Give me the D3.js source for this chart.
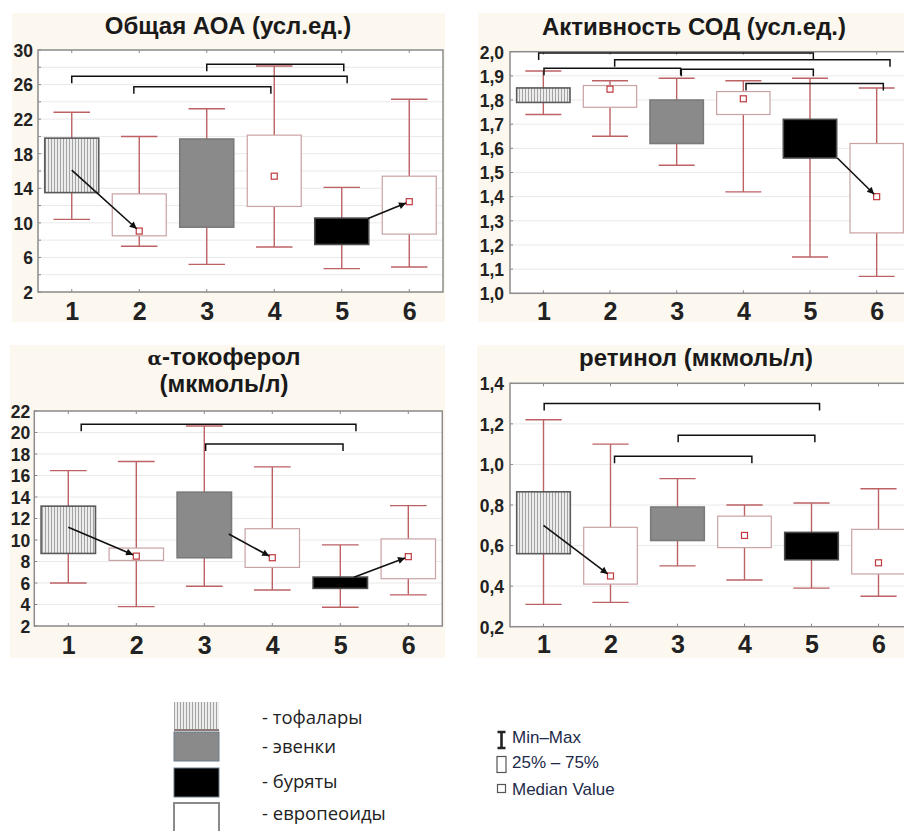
<!DOCTYPE html>
<html><head><meta charset="utf-8">
<script src="https://cdn.jsdelivr.net/npm/d3@7"></script>
<style>
html,body{margin:0;padding:0;background:#fff;}
svg{display:block;}
</style></head>
<body>
<script>
// ---------- DATA ----------
const categories = [1, 2, 3, 4, 5, 6];
const groupOf = ["тофалары", "европеоиды", "эвенки", "европеоиды", "буряты", "европеоиды"];

// Общая АОА (усл.ед.)
const aoaMin    = [10.4, 7.3, 5.2, 7.2, 4.7, 4.9];
const aoaQ1     = [13.5, 8.5, 9.5, 11.9, 7.5, 8.7];
const aoaMedian = [16.1, 9.05, 14.5, 15.4, 9.0, 12.45];
const aoaQ3     = [19.8, 13.35, 19.7, 20.15, 10.55, 15.4];
const aoaMax    = [22.8, 20.0, 23.2, 28.15, 14.1, 24.3];
const aoaTicks  = [2, 6, 10, 14, 18, 22, 26, 30];
const aoaBrackets = [[3.0, 5.03, 28.35], [1.0, 5.08, 26.95], [1.92, 3.95, 25.75]];
const aoaArrows   = [[1, 16.1, 2, 9.05], [5.39, 10.5, 6, 12.45]];

// Активность СОД (усл.ед.)
const sodMin    = [1.74, 1.65, 1.53, 1.42, 1.15, 1.07];
const sodQ1     = [1.79, 1.77, 1.62, 1.74, 1.56, 1.25];
const sodMedian = [1.82, 1.845, 1.70, 1.805, 1.64, 1.40];
const sodQ3     = [1.85, 1.86, 1.80, 1.835, 1.72, 1.62];
const sodMax    = [1.92, 1.88, 1.89, 1.88, 1.89, 1.85];
const sodTicks  = [1.0, 1.1, 1.2, 1.3, 1.4, 1.5, 1.6, 1.7, 1.8, 1.9, 2.0];
const sodBrackets = [[0.93, 5.05, 1.995], [2.07, 6.2, 1.967], [1.01, 3.06, 1.932], [3.07, 5.05, 1.927], [4.04, 6.1, 1.868]];
const sodArrows   = [[5.41, 1.56, 6, 1.40]];

// α-токоферол (мкмоль/л)
const tocMin    = [6.0, 3.8, 5.7, 5.35, 3.75, 4.9];
const tocQ1     = [8.75, 8.1, 8.35, 7.45, 5.5, 6.4];
const tocMedian = [11.2, 8.5, 11.0, 8.35, 6.0, 8.45];
const tocQ3     = [13.15, 9.25, 14.45, 11.05, 6.55, 10.1];
const tocMax    = [16.45, 17.3, 20.6, 16.8, 9.55, 13.2];
const tocTicks  = [2, 4, 6, 8, 10, 12, 14, 16, 18, 20, 22];
const tocBrackets = [[1.19, 5.23, 20.76], [3.02, 5.04, 18.93]];
const tocArrows   = [[1, 11.18, 2, 8.5], [3.36, 10.56, 4, 8.35], [5.2, 6.53, 6, 8.45]];

// ретинол (мкмоль/л)
const retMin    = [0.31, 0.32, 0.50, 0.43, 0.39, 0.35];
const retQ1     = [0.56, 0.41, 0.625, 0.59, 0.53, 0.46];
const retMedian = [0.70, 0.45, 0.71, 0.65, 0.60, 0.515];
const retQ3     = [0.865, 0.69, 0.79, 0.745, 0.665, 0.68];
const retMax    = [1.22, 1.10, 0.93, 0.80, 0.81, 0.88];
const retTicks  = [0.2, 0.4, 0.6, 0.8, 1.0, 1.2, 1.4];
const retBrackets = [[1.01, 5.12, 1.30], [3.01, 5.05, 1.144], [2.06, 4.11, 1.04]];
const retArrows   = [[1, 0.70, 2, 0.45]];

const legendGroups = ["тофалары", "эвенки", "буряты", "европеоиды"];
const legendStats  = ["Min–Max", "25% – 75%", "Median Value"];

// ---------- STYLE ----------
const W = 904, H = 831;
const CREAM = "#fdf8ef";
const WHISK = "#bd6165";
const WBOX = "#c9a2a3";
const FONT = "'Liberation Sans', Arial, sans-serif";
const groupFill = {"тофалары": "url(#hatch)", "эвенки": "#8a8a8a", "буряты": "#000", "европеоиды": "#fff"};
const groupStroke = {"тофалары": "#5a5a5a", "эвенки": "#7a7a7a", "буряты": "#4a4a4a", "европеоиды": WBOX};

const svg = d3.select("body").append("svg").attr("width", W).attr("height", H)
  .style("font-family", FONT);
svg.append("rect").attr("width", W).attr("height", H).attr("fill", "#fff");

const defs = svg.append("defs");
const pat = defs.append("pattern").attr("id", "hatch").attr("patternUnits", "userSpaceOnUse")
  .attr("width", 3).attr("height", 10);
pat.append("rect").attr("width", 3).attr("height", 10).attr("fill", "#ececec");
pat.append("rect").attr("x", 0).attr("width", 1).attr("height", 10).attr("fill", "#a3a3a3");
defs.append("marker").attr("id", "arr").attr("viewBox", "0 0 10 10").attr("refX", 10).attr("refY", 5)
  .attr("markerWidth", 9).attr("markerHeight", 7).attr("markerUnits", "userSpaceOnUse")
  .attr("orient", "auto")
  .append("path").attr("d", "M0,0 L10,5 L0,10 Z").attr("fill", "#111");

const commaFmt = (dec) => (v) => d3.format("." + dec + "f")(v).replace(".", ",");

function panel(cfg) {
  const g = svg.append("g");
  g.append("rect").attr("x", cfg.bg[0]).attr("y", cfg.bg[1]).attr("width", cfg.bg[2]).attr("height", cfg.bg[3])
    .attr("fill", CREAM);
  const x = d3.scaleLinear().domain([0.5, 6.5]).range([cfg.x0, cfg.x1]);
  const y = d3.scaleLinear().domain(cfg.domain).range([cfg.y1, cfg.y0]);
  const band = (cfg.x1 - cfg.x0) / 6;

  g.append("rect").attr("x", cfg.x0).attr("y", cfg.y0).attr("width", cfg.x1 - cfg.x0).attr("height", cfg.y1 - cfg.y0)
    .attr("fill", "#fff");
  // grid
  g.append("g").selectAll("line").data(cfg.grid).join("line")
    .attr("x1", cfg.x0).attr("x2", cfg.x1).attr("y1", d => y(d)).attr("y2", d => y(d))
    .attr("stroke", "#e9e9e9").attr("stroke-width", 1);
  // inward ticks
  g.append("g").selectAll("line").data(cfg.grid).join("line")
    .attr("x1", cfg.x0).attr("x2", cfg.x0 + 3).attr("y1", d => y(d)).attr("y2", d => y(d))
    .attr("stroke", "#888");
  g.append("g").selectAll("line").data(categories).join("line")
    .attr("x1", d => x(d)).attr("x2", d => x(d)).attr("y1", cfg.y1).attr("y2", cfg.y1 - 3).attr("stroke", "#888");
  g.append("g").selectAll("line").data(categories).join("line")
    .attr("x1", d => x(d)).attr("x2", d => x(d)).attr("y1", cfg.y0).attr("y2", cfg.y0 + 3).attr("stroke", "#888");
  // frame
  g.append("rect").attr("x", cfg.x0).attr("y", cfg.y0).attr("width", cfg.x1 - cfg.x0).attr("height", cfg.y1 - cfg.y0)
    .attr("fill", "none").attr("stroke", "#8c8c8c").attr("stroke-width", 1.5);

  // axes
  const ya = g.append("g").attr("transform", `translate(${cfg.x0},0)`)
    .call(d3.axisLeft(y).tickValues(cfg.ticks).tickFormat(cfg.fmt).tickSize(0).tickPadding(cfg.ypad));
  ya.select(".domain").remove();
  ya.selectAll("text").attr("font-size", 17.5).attr("font-weight", "bold").attr("fill", "#222")
    .attr("font-family", FONT).attr("dy", "0.36em");
  const xa = g.append("g").attr("transform", `translate(0,${cfg.y1})`)
    .call(d3.axisBottom(x).tickValues(categories).tickFormat(d3.format("d")).tickSize(0).tickPadding(cfg.xpad));
  xa.select(".domain").remove();
  xa.selectAll("text").attr("font-size", 25).attr("font-weight", "bold").attr("fill", "#222")
    .attr("font-family", FONT).attr("dy", "0.71em");

  const idx = d3.range(categories.length);
  // whiskers
  const wg = g.append("g").attr("stroke", WHISK).attr("stroke-width", 1.4);
  wg.selectAll(".stem").data(idx).join("line")
    .attr("x1", i => x(categories[i])).attr("x2", i => x(categories[i]))
    .attr("y1", i => y(cfg.min[i])).attr("y2", i => y(cfg.max[i]));
  const cap = band * 0.27;
  ["min", "max"].forEach(k => {
    wg.selectAll(".c" + k).data(idx).join("line")
      .attr("x1", i => x(categories[i]) - cap).attr("x2", i => x(categories[i]) + cap)
      .attr("y1", i => y(cfg[k][i])).attr("y2", i => y(cfg[k][i]));
  });
  // boxes
  const bw = band * 0.8;
  g.append("g").selectAll("rect").data(idx).join("rect")
    .attr("x", i => x(categories[i]) - bw / 2).attr("width", bw)
    .attr("y", i => y(cfg.q3[i])).attr("height", i => y(cfg.q1[i]) - y(cfg.q3[i]))
    .attr("fill", i => groupFill[groupOf[i]]).attr("stroke", i => groupStroke[groupOf[i]])
    .attr("stroke-width", i => groupOf[i] === "европеоиды" ? 1.2 : 1.6);
  // medians (visible on white boxes)
  g.append("g").selectAll("rect").data(idx.filter(i => groupOf[i] === "европеоиды")).join("rect")
    .attr("x", i => x(categories[i]) - 3).attr("y", i => y(cfg.median[i]) - 3)
    .attr("width", 6).attr("height", 6).attr("fill", "#fff").attr("stroke", "#c0393d").attr("stroke-width", 1.2);
  // brackets
  const bg = g.append("g").attr("fill", "none").attr("stroke", "#111").attr("stroke-width", 1.5);
  cfg.brackets.forEach(b => {
    const xa_ = x(b[0]), xb = x(b[1]), yy = y(b[2]);
    bg.append("path").attr("d", `M${xa_},${yy + 7}V${yy}H${xb}V${yy + 7}`);
  });
  // arrows
  const ag = g.append("g");
  cfg.arrows.forEach(a => {
    const x1 = x(a[0]), y1 = y(a[1]), x2 = x(a[2]), y2 = y(a[3]);
    const len = Math.hypot(x2 - x1, y2 - y1), sh = 3.5;
    ag.append("line").attr("x1", x1).attr("y1", y1)
      .attr("x2", x2 - (x2 - x1) / len * sh).attr("y2", y2 - (y2 - y1) / len * sh)
      .attr("stroke", "#111").attr("stroke-width", 1.6).attr("marker-end", "url(#arr)");
  });
  // title
  cfg.title.forEach(t => {
    const tx = g.append("text").attr("x", t.x).attr("y", t.y).attr("text-anchor", "middle")
      .attr("font-size", 24).attr("font-weight", "bold").attr("fill", "#1a1a1a");
    t.parts.forEach(p => {
      const s = tx.append("tspan").text(p.text);
      if (p.serif) s.attr("font-family", "'DejaVu Serif', serif").attr("font-size", 19);
    });
  });
}

panel({bg: [12, 13, 433, 309], x0: 38, x1: 443, y0: 50, y1: 292, domain: [2, 30],
  grid: d3.range(2, 31, 2), ticks: aoaTicks, fmt: d3.format("d"), ypad: 5, xpad: 10,
  min: aoaMin, q1: aoaQ1, median: aoaMedian, q3: aoaQ3, max: aoaMax,
  brackets: aoaBrackets, arrows: aoaArrows,
  title: [{x: 228, y: 34, parts: [{text: "Общая АОА (усл.ед.)"}]}]});

panel({bg: [478, 13, 430, 309], x0: 510, x1: 910, y0: 51.7, y1: 293.3, domain: [1.0, 2.0],
  grid: sodTicks, ticks: sodTicks, fmt: commaFmt(1), ypad: 6, xpad: 9,
  min: sodMin, q1: sodQ1, median: sodMedian, q3: sodQ3, max: sodMax,
  brackets: sodBrackets, arrows: sodArrows,
  title: [{x: 694, y: 35, parts: [{text: "Активность СОД (усл.ед.)"}]}]});

panel({bg: [10, 345, 435, 313], x0: 34.3, x1: 442.3, y0: 411, y1: 626, domain: [2, 22],
  grid: tocTicks, ticks: tocTicks, fmt: d3.format("d"), ypad: 4, xpad: 10,
  min: tocMin, q1: tocQ1, median: tocMedian, q3: tocQ3, max: tocMax,
  brackets: tocBrackets, arrows: tocArrows,
  title: [{x: 224, y: 365, parts: [{text: "α", serif: true}, {text: "-токоферол"}]},
          {x: 224, y: 392, parts: [{text: "(мкмоль/л)"}]}]});

panel({bg: [477, 345, 430, 313], x0: 510, x1: 912, y0: 383.3, y1: 626.7, domain: [0.2, 1.4],
  grid: retTicks, ticks: retTicks, fmt: commaFmt(1), ypad: 6, xpad: 9,
  min: retMin, q1: retQ1, median: retMedian, q3: retQ3, max: retMax,
  brackets: retBrackets, arrows: retArrows,
  title: [{x: 696, y: 366, parts: [{text: "ретинол (мкмоль/л)"}]}]});

// ---------- LEGEND ----------
const lg = svg.append("g");
const swY = [702, 732, 768, 803];
const swH = [28, 29, 29, 30];
const labY = [724, 753, 788, 820];
legendGroups.forEach((name, i) => {
  lg.append("rect").attr("x", 174).attr("y", swY[i]).attr("width", 45).attr("height", swH[i])
    .attr("fill", groupFill[name])
    .attr("stroke", name === "тофалары" ? "none" : (name === "европеоиды" ? "#8a8a8a" : "#6a7a8a"))
    .attr("stroke-width", name === "европеоиды" ? 2 : 1);
  if (name === "тофалары") {
    lg.append("line").attr("x1", 174).attr("x2", 219).attr("y1", swY[i] + swH[i]).attr("y2", swY[i] + swH[i])
      .attr("stroke", "#8a7a7a").attr("stroke-width", 2);
  }
  lg.append("text").attr("x", 262).attr("y", labY[i]).text("- " + name)
    .attr("font-family", "'Open Sans', sans-serif").attr("font-size", 18.5).attr("fill", "#222");
});
// statistics legend
const sx = 501;
const sl = svg.append("g");
sl.append("path").attr("d", `M${sx - 3.5},732 H${sx + 4.5} M${sx + 0.5},732 V748 M${sx - 3.5},748 H${sx + 4.5}`)
  .attr("stroke", "#222").attr("stroke-width", 2.6).attr("fill", "none");
sl.append("rect").attr("x", 497).attr("y", 756.5).attr("width", 9).attr("height", 16)
  .attr("fill", "#fff").attr("stroke", "#555").attr("stroke-width", 1.2);
sl.append("rect").attr("x", 497.5).attr("y", 784.5).attr("width", 8).attr("height", 8)
  .attr("fill", "#fff").attr("stroke", "#555").attr("stroke-width", 1.2);
const statY = [743, 768, 795];
legendStats.forEach((t, i) => {
  sl.append("text").attr("x", 512).attr("y", statY[i]).text(t)
    .attr("font-family", FONT).attr("font-size", 17).attr("fill", "#1d2a4a");
});
</script>
</body></html>
